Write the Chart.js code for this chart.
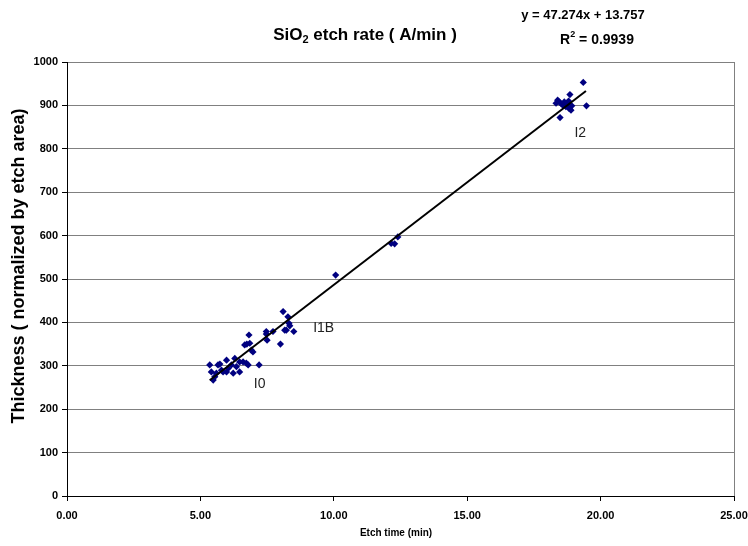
<!DOCTYPE html>
<html>
<head>
<meta charset="utf-8">
<script src="https://cdn.jsdelivr.net/npm/chart.js@4/dist/chart.umd.min.js"></script>
<style>
  html, body { margin: 0; padding: 0; background: #fff; }
  #wrap { width: 748px; height: 546px; position: relative; }
</style>
</head>
<body>
<div id="wrap"><canvas id="c" width="748" height="546"></canvas></div>
<script>
// Measured etch time (min) and normalized thickness for each sample
const etchTime = [
  5.35, 5.41, 5.48, 5.54, 5.60, 5.66, 5.73, 5.79, 5.85, 5.98,
  5.98, 6.04, 6.16, 6.23, 6.29, 6.35, 6.47, 6.47, 6.60, 6.66,
  6.72, 6.79, 6.82, 6.85, 6.91, 6.97, 7.20, 7.47, 7.50, 7.47,
  7.72, 8.00, 8.10, 8.16, 8.28, 8.32, 8.22, 8.35, 8.50, 6.74,
  10.07, 12.15, 12.28, 12.40,
  19.35, 18.85, 19.47, 18.48, 18.39, 18.45, 18.51, 18.57, 18.64, 18.70,
  18.76, 18.82, 18.89, 18.92, 18.33, 18.80
];
const thickness = [
  302, 286, 267, 275, 283, 302, 304, 290, 286, 313,
  286, 294, 302, 283, 317, 298, 286, 309, 309, 348,
  306, 302, 371, 352, 336, 332, 302, 379, 359, 373,
  379, 350, 425, 382, 413, 398, 382, 392, 379, 350,
  509, 582, 581, 597,
  953, 925, 899, 872, 912, 908, 905, 901, 908, 897,
  903, 893, 889, 899, 905, 910
];

// Linear fit reported on the chart
const slope = 47.274;
const intercept = 13.757;
const rSquared = 0.9939;
const fitRange = [5.35, 19.45];

// Lot labels placed next to their clusters
const groupNames = ['I0', 'I1B', 'I2'];
const groupX = [7.22, 9.62, 19.24];
const groupY = [258, 387, 836];

const xTicks = [0, 5, 10, 15, 20, 25];
const yTicks = [0, 100, 200, 300, 400, 500, 600, 700, 800, 900, 1000];

const points = etchTime.map((x, i) => ({ x: x, y: thickness[i] }));
const fitLine = fitRange.map(x => ({ x: x, y: slope * x + intercept }));

const FONT = '"Liberation Sans", Arial, sans-serif';

const textPlugin = {
  id: 'chartText',
  afterDraw(chart) {
    const ctx = chart.ctx;
    const a = chart.chartArea;
    const xs = chart.scales.x, ys = chart.scales.y;
    ctx.save();

    // right border of the plot area
    ctx.strokeStyle = '#808080';
    ctx.lineWidth = 1;
    ctx.beginPath();
    ctx.moveTo(Math.round(a.right) + 0.5, a.top);
    ctx.lineTo(Math.round(a.right) + 0.5, a.bottom);
    ctx.stroke();

    ctx.fillStyle = '#000';
    ctx.textBaseline = 'middle';

    // title with subscript
    const t1 = 'SiO', t2 = '2', t3 = ' etch rate ( A/min )';
    ctx.font = 'bold 17px ' + FONT;
    const w1 = ctx.measureText(t1).width;
    const w3 = ctx.measureText(t3).width;
    ctx.font = 'bold 11px ' + FONT;
    const w2 = ctx.measureText(t2).width;
    let tx = 365 - (w1 + w2 + w3) / 2;
    ctx.textAlign = 'left';
    ctx.font = 'bold 17px ' + FONT;
    ctx.fillText(t1, tx, 35);
    ctx.font = 'bold 11px ' + FONT;
    ctx.fillText(t2, tx + w1, 40);
    ctx.font = 'bold 17px ' + FONT;
    ctx.fillText(t3, tx + w1 + w2, 35);

    // fit equation
    ctx.font = 'bold 13px ' + FONT;
    ctx.textAlign = 'center';
    ctx.fillText('y = ' + slope.toFixed(3) + 'x + ' + intercept.toFixed(3), 583, 15);
    const rA = 'R', rB = '2', rC = ' = ' + rSquared.toFixed(4);
    ctx.font = 'bold 14px ' + FONT;
    const wa = ctx.measureText(rA).width, wc = ctx.measureText(rC).width;
    ctx.font = 'bold 9px ' + FONT;
    const wb = ctx.measureText(rB).width;
    let rx = 597 - (wa + wb + wc) / 2;
    ctx.textAlign = 'left';
    ctx.font = 'bold 14px ' + FONT;
    ctx.fillText(rA, rx, 40);
    ctx.font = 'bold 9px ' + FONT;
    ctx.fillText(rB, rx + wa, 35);
    ctx.font = 'bold 14px ' + FONT;
    ctx.fillText(rC, rx + wa + wb, 40);

    // group labels
    ctx.font = '14px ' + FONT;
    ctx.textAlign = 'center';
    ctx.fillStyle = '#222';
    groupNames.forEach((n, i) => {
      ctx.fillText(n, xs.getPixelForValue(groupX[i]), ys.getPixelForValue(groupY[i]));
    });

    // axis titles
    ctx.fillStyle = '#000';
    ctx.font = 'bold 10px ' + FONT;
    ctx.fillText('Etch time (min)', 396, 533);
    ctx.save();
    ctx.translate(19, 266);
    ctx.rotate(-Math.PI / 2);
    ctx.font = 'bold 18px ' + FONT;
    ctx.fillText('Thickness ( normalized by etch area)', 0, 0);
    ctx.restore();

    ctx.restore();
  }
};

new Chart(document.getElementById('c'), {
  type: 'scatter',
  data: {
    datasets: [
      {
        label: 'Samples',
        data: points,
        pointStyle: 'rectRot',
        pointRadius: 3.6,
        pointHoverRadius: 3.6,
        backgroundColor: '#000080',
        borderColor: '#000080',
        borderWidth: 0,
        order: 2
      },
      {
        label: 'Linear fit',
        type: 'line',
        data: fitLine,
        borderColor: '#000',
        borderWidth: 2,
        pointRadius: 0,
        fill: false,
        order: 1
      }
    ]
  },
  options: {
    responsive: false,
    animation: false,
    events: [],
    layout: { padding: { left: 0, right: 14, top: 62, bottom: 0 } },
    plugins: {
      legend: { display: false },
      tooltip: { enabled: false },
      title: { display: false }
    },
    scales: {
      x: {
        type: 'linear',
        min: 0, max: 25,
        afterBuildTicks(s) { s.ticks = xTicks.map(v => ({ value: v })); },
        afterFit(s) { s.height = 50; s.paddingLeft = 0; s.paddingRight = 0; },
        ticks: {
          color: '#000',
          font: { family: FONT, size: 11, weight: 'bold' },
          padding: 8,
          maxRotation: 0,
          callback: v => Number(v).toFixed(2)
        },
        grid: { drawOnChartArea: false, drawTicks: true, tickLength: 5, color: '#000' },
        border: { color: '#000', width: 1 }
      },
      y: {
        type: 'linear',
        min: 0, max: 1000,
        afterBuildTicks(s) { s.ticks = yTicks.map(v => ({ value: v })); },
        afterFit(s) { s.width = 67; s.paddingTop = 0; s.paddingBottom = 0; },
        ticks: {
          color: '#000',
          font: { family: FONT, size: 11, weight: 'bold' },
          padding: 4,
          callback: v => String(v)
        },
        grid: { drawOnChartArea: true, drawTicks: true, tickLength: 5, color: '#808080', tickColor: '#000', lineWidth: 1 },
        border: { color: '#000', width: 1 }
      }
    }
  },
  plugins: [textPlugin]
});
</script>
</body>
</html>
